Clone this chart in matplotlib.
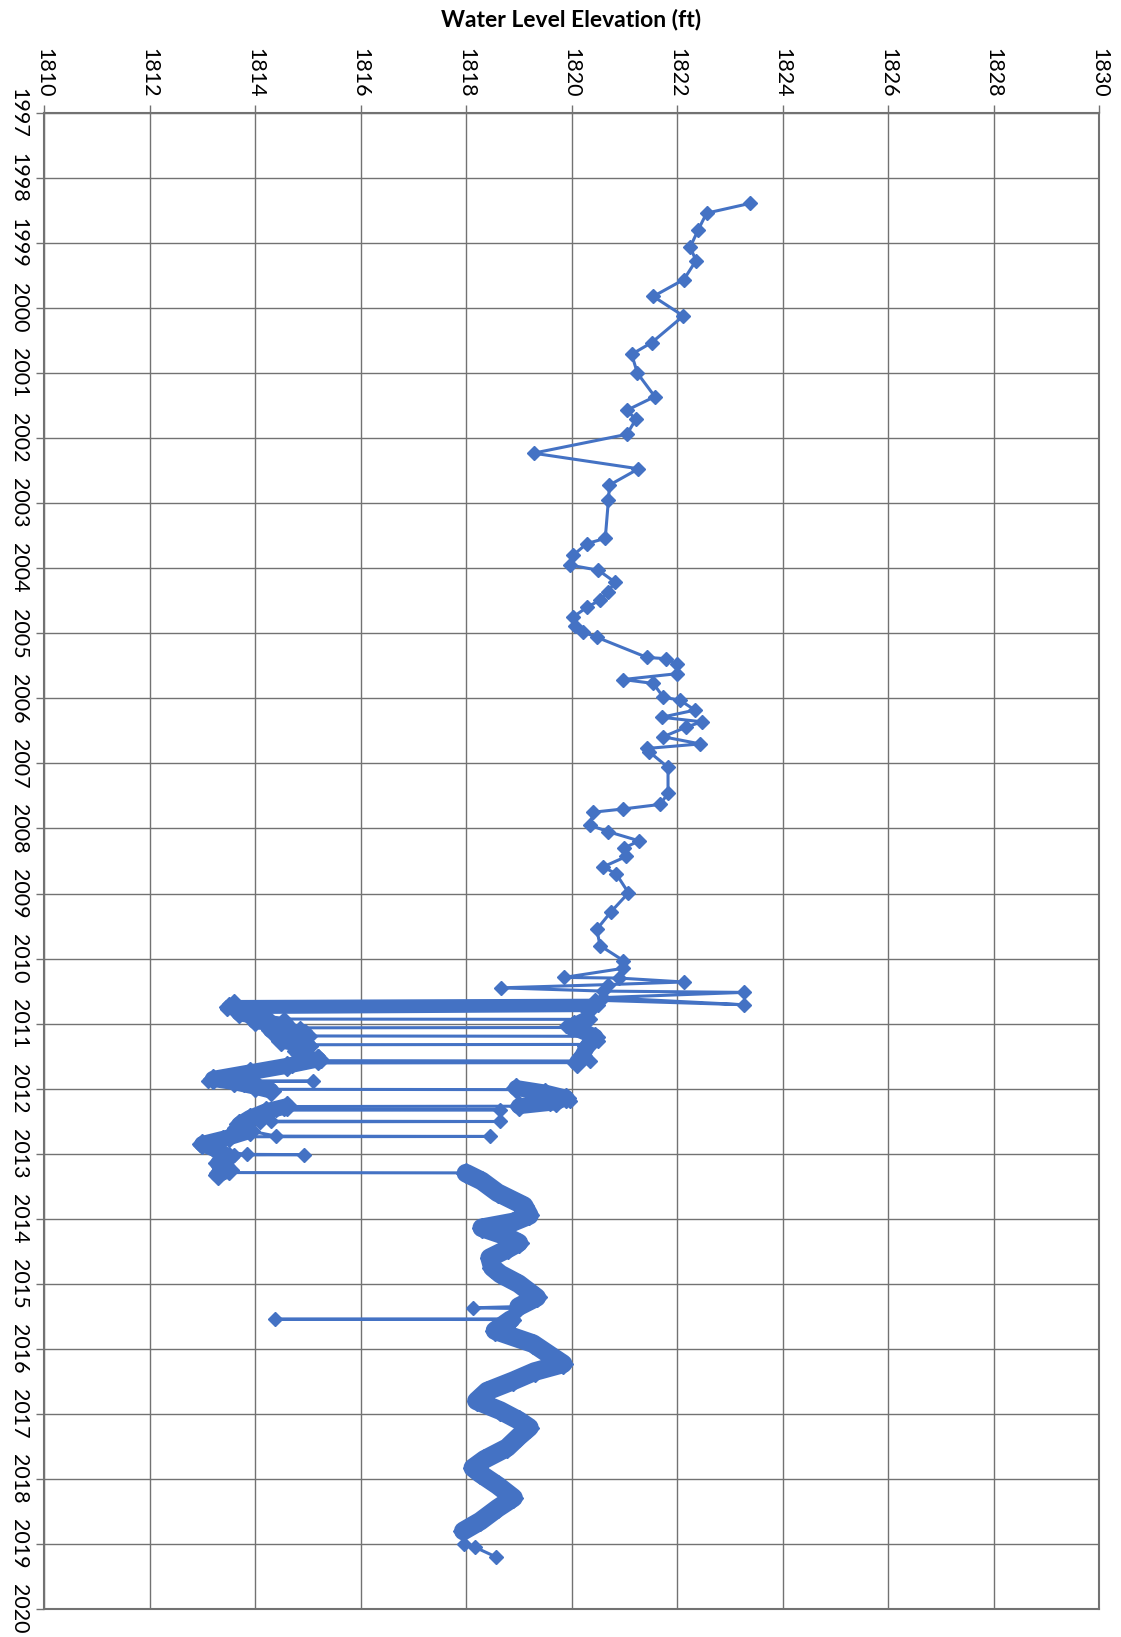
import matplotlib.pyplot as plt

plt.rcParams['font.family'] = ['Lato', 'DejaVu Sans']

BLUE = '#4472C4'
GRID = '#727272'

# tick values
elev_ticks = list(range(1810, 1831, 2))
year_ticks = list(range(1997, 2021))

# manual readings 1998 - 2010 (decimal year, water level ft)
manual_dates = [1998.39, 1998.54, 1998.80, 1999.06, 1999.27, 1999.56, 1999.82, 2000.12,
                2000.53, 2000.71, 2001.00, 2001.36, 2001.57, 2001.71, 2001.94, 2002.23,
                2002.47, 2002.72, 2002.95, 2003.54, 2003.62, 2003.80, 2003.95, 2004.03,
                2004.21, 2004.36, 2004.49, 2004.60, 2004.75, 2004.88, 2004.98, 2005.06,
                2005.37, 2005.39, 2005.47, 2005.62, 2005.71, 2005.77, 2005.98, 2006.03,
                2006.18, 2006.29, 2006.36, 2006.44, 2006.59, 2006.70, 2006.77, 2006.82,
                2007.06, 2007.46, 2007.63, 2007.70, 2007.75, 2007.95, 2008.05, 2008.19,
                2008.30, 2008.43, 2008.59, 2008.70, 2008.99, 2009.28, 2009.55, 2009.80,
                2010.03, 2010.15, 2010.29, 2010.30, 2010.36, 2010.40, 2010.45, 2010.50,
                2010.52, 2010.60, 2010.71]
manual_levels = [1823.38, 1822.56, 1822.40, 1822.25, 1822.36, 1822.13, 1821.55, 1822.12,
                 1821.52, 1821.14, 1821.25, 1821.58, 1821.05, 1821.22, 1821.05, 1819.28,
                 1821.27, 1820.72, 1820.70, 1820.64, 1820.29, 1820.03, 1819.97, 1820.51,
                 1820.82, 1820.70, 1820.54, 1820.29, 1820.03, 1820.07, 1820.22, 1820.48,
                 1821.43, 1821.80, 1822.00, 1822.00, 1820.98, 1821.55, 1821.74, 1822.06,
                 1822.34, 1821.71, 1822.47, 1822.18, 1821.74, 1822.44, 1821.43, 1821.47,
                 1821.83, 1821.83, 1821.68, 1820.98, 1820.41, 1820.35, 1820.70, 1821.28,
                 1821.00, 1821.04, 1820.60, 1820.85, 1821.08, 1820.75, 1820.48, 1820.54,
                 1820.98, 1820.98, 1819.86, 1820.90, 1822.13, 1820.70, 1818.66, 1820.60,
                 1823.27, 1820.60, 1823.27]

# logger record 2010 - 2013 (pumping test period, jumps between drawdown and recovery)
test_dates = [2010.64, 2010.66, 2010.68, 2010.70, 2010.72, 2010.74, 2010.76, 2010.78,
              2010.80, 2010.83, 2010.86, 2010.90, 2010.93, 2010.935, 2010.98, 2011.04,
              2011.06, 2011.065, 2011.12, 2011.19, 2011.195, 2011.26, 2011.32, 2011.325,
              2011.38, 2011.45, 2011.50, 2011.57, 2011.575, 2011.60, 2011.605, 2011.65,
              2011.72, 2011.80, 2011.88, 2011.885, 2011.89, 2011.95, 2012.01, 2012.015,
              2012.05, 2012.12, 2012.19, 2012.24, 2012.27, 2012.275, 2012.32, 2012.325,
              2012.33, 2012.42, 2012.50, 2012.505, 2012.51, 2012.60, 2012.73, 2012.735,
              2012.74, 2012.86, 2012.95, 2013.01, 2013.015, 2013.02, 2013.16, 2013.25,
              2013.29, 2013.295]
test_levels = [1820.45, 1813.60, 1820.40, 1813.50, 1820.50, 1813.45, 1820.40, 1813.46,
               1820.30, 1813.70, 1813.95, 1814.25, 1814.55, 1820.30, 1820.05, 1819.90,
               1819.95, 1814.85, 1814.95, 1815.05, 1820.45, 1820.50, 1820.35, 1815.05,
               1814.90, 1815.00, 1815.20, 1815.25, 1820.35, 1820.10, 1815.20, 1814.70,
               1814.10, 1813.50, 1813.11, 1815.10, 1814.00, 1813.80, 1814.30, 1818.95,
               1819.40, 1819.80, 1819.97, 1819.60, 1819.00, 1814.60, 1814.55, 1818.64,
               1814.40, 1814.00, 1814.30, 1818.64, 1814.10, 1813.60, 1814.40, 1818.45,
               1813.40, 1812.96, 1813.20, 1813.84, 1814.92, 1813.60, 1813.30, 1813.40,
               1813.27, 1817.95]

# logger record 2013 - 2019
daily_dates = [2013.30, 2013.42, 2013.60, 2013.80, 2013.95, 2014.05, 2014.14, 2014.25,
               2014.37, 2014.46, 2014.60, 2014.75, 2014.85, 2015.00, 2015.21, 2015.35,
               2015.37, 2015.38, 2015.45, 2015.54, 2015.545, 2015.55, 2015.72, 2015.92,
               2016.10, 2016.23, 2016.35, 2016.49, 2016.65, 2016.80, 2016.95, 2017.10,
               2017.21, 2017.35, 2017.52, 2017.70, 2017.83, 2017.92, 2018.10, 2018.29,
               2018.45, 2018.65, 2018.80, 2019.00, 2019.05, 2019.20]
daily_levels = [1818.00, 1818.30, 1818.60, 1819.10, 1819.20, 1818.90, 1818.30, 1818.70,
                1819.00, 1818.80, 1818.45, 1818.50, 1818.65, 1819.00, 1819.34, 1819.00,
                1818.13, 1818.95, 1818.90, 1818.90, 1814.38, 1818.85, 1818.55, 1819.27,
                1819.60, 1819.84, 1819.30, 1818.90, 1818.40, 1818.20, 1818.65, 1819.00,
                1819.20, 1819.00, 1818.78, 1818.35, 1818.13, 1818.27, 1818.60, 1818.90,
                1818.60, 1818.27, 1817.95, 1817.96, 1818.17, 1818.57]

# spans where daily readings pile up into a solid band
blob_a_dates = [2010.84, 2010.90, 2010.96, 2011.03, 2011.10, 2011.18, 2011.26, 2011.34, 2011.42]
blob_a_levels = [1813.7, 1814.1, 1814.0, 1814.6, 1814.3, 1814.9, 1814.5, 1815.0, 1814.8]
blob_b_dates = [2010.93, 2011.05, 2011.20, 2011.35, 2011.50, 2011.60]
blob_b_levels = [1820.3, 1820.0, 1820.45, 1820.3, 1820.2, 1820.1]
blob_c_dates = [2011.55, 2011.65, 2011.75, 2011.85, 2011.90, 2011.97, 2012.03]
blob_c_levels = [1815.2, 1814.6, 1813.9, 1813.2, 1813.6, 1814.0, 1814.3]
blob_d_dates = [2011.99, 2012.06, 2012.14, 2012.21, 2012.27]
blob_d_levels = [1818.95, 1819.5, 1819.9, 1819.7, 1819.0]
blob_e_dates = [2012.27, 2012.35, 2012.45, 2012.55, 2012.65, 2012.75, 2012.85, 2012.95,
                2013.05, 2013.15, 2013.25, 2013.32]
blob_e_levels = [1814.6, 1814.2, 1813.9, 1813.7, 1813.9, 1813.5, 1813.0, 1813.3, 1813.5,
                 1813.3, 1813.5, 1813.3]

dates = manual_dates + test_dates + daily_dates
levels = manual_levels + test_levels + daily_levels

fig = plt.figure(figsize=(11.21, 16.37), dpi=100)
ax = fig.add_axes([44 / 1121, 1 - 1609 / 1637, 1055 / 1121, 1496 / 1637])

ax.plot(levels, dates, color=BLUE, lw=2.2, marker='D', ms=7.5, zorder=3)
blobs = [(blob_a_dates, blob_a_levels, 11.5), (blob_b_dates, blob_b_levels, 11.5),
         (blob_c_dates, blob_c_levels, 11.5), (blob_d_dates, blob_d_levels, 11.5),
         (blob_e_dates, blob_e_levels, 11.5), (daily_dates[:16], daily_levels[:16], 13.5),
         (daily_dates[21:43], daily_levels[21:43], 13.5)]
for bd, bl, w in blobs:
    ax.plot(bl, bd, color=BLUE, lw=w, marker='D', ms=10, solid_capstyle='round',
            solid_joinstyle='round', zorder=3)

ax.set_xlim(1810, 1830)
ax.set_ylim(2020, 1997)
ax.set_xticks(elev_ticks)
ax.set_yticks(year_ticks)
ax.xaxis.tick_top()
ax.set_xticklabels([str(v) for v in elev_ticks], rotation=270, fontsize=15.5)
ax.set_yticklabels([str(v) for v in year_ticks], rotation=270, fontsize=15.5, va='center')
ax.tick_params(axis='both', direction='out', length=6, width=1, color=GRID, pad=5)
ax.grid(True, color=GRID, lw=1)
ax.set_axisbelow(True)
for s in ax.spines.values():
    s.set_color(GRID)
    s.set_linewidth(1.5)

fig.text(571.5 / 1121, 1 - 19 / 1637, 'Water Level Elevation (ft)', ha='center', va='center',
         fontsize=16.5, fontweight='bold')

plt.savefig('out.png', dpi=100)
